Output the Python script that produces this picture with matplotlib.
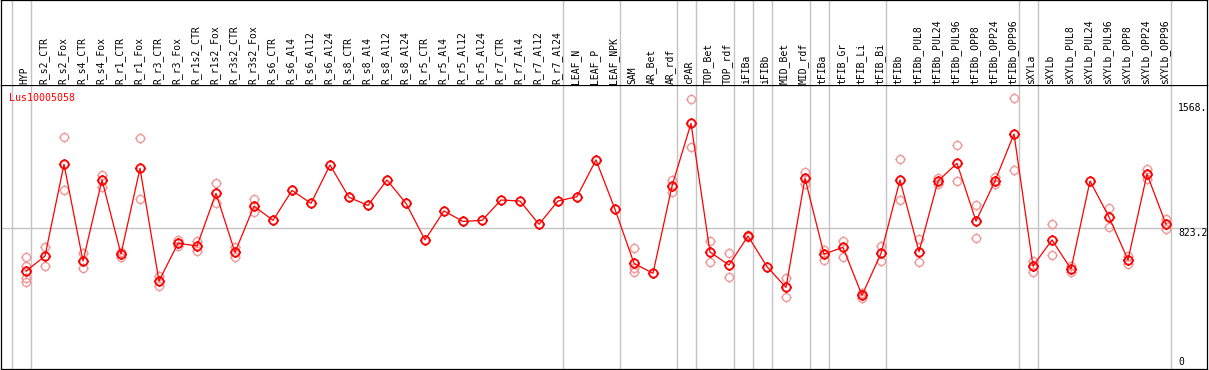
import matplotlib
matplotlib.use("Agg")
import matplotlib.pyplot as plt
from matplotlib.path import Path

categories = ["HYP", "R_s2_CTR", "R_s2_Fox", "R_s4_CTR", "R_s4_Fox", "R_r1_CTR", "R_r1_Fox",
              "R_r3_CTR", "R_r3_Fox", "R_r1s2_CTR", "R_r1s2_Fox", "R_r3s2_CTR", "R_r3s2_Fox",
              "R_s6_CTR", "R_s6_Al4", "R_s6_Al12", "R_s6_Al24", "R_s8_CTR", "R_s8_Al4",
              "R_s8_Al12", "R_s8_Al24", "R_r5_CTR", "R_r5_Al4", "R_r5_Al12", "R_r5_Al24",
              "R_r7_CTR", "R_r7_Al4", "R_r7_Al12", "R_r7_Al24", "LEAF_N", "LEAF_P", "LEAF_NPK",
              "SAM", "AR_Bet", "AR_rdf", "cPAR", "TOP_Bet", "TOP_rdf", "iFIBa", "iFIBb",
              "MID_Bet", "MID_rdf", "tFIBa", "tFIB_Gr", "tFIB_Li", "tFIB_Bi", "tFIBb",
              "tFIBb_PUL8", "tFIBb_PUL24", "tFIBb_PUL96", "tFIBb_OPP8", "tFIBb_OPP24",
              "tFIBb_OPP96", "sXYLa", "sXYLb", "sXYLb_PUL8", "sXYLb_PUL24", "sXYLb_PUL96",
              "sXYLb_OPP8", "sXYLb_OPP24", "sXYLb_OPP96"]

mean_values = [569, 658, 1203, 629, 1110, 670, 1179, 510, 734, 718, 1031, 680, 955,
               870, 1048, 971, 1199, 1007, 959, 1110, 971, 754, 926, 864, 870,
               991, 985, 847, 985, 1011, 1229, 936,
               615, 556, 1074, 1446, 682, 605, 777, 595, 472, 1120,
               670, 710, 425, 674, 1110, 684, 1104, 1209, 866, 1104, 1383,
               599, 754, 581, 1104, 890, 635, 1145, 847]

replicates = [[654, 599, 526, 506], [714, 599], [1363, 1050], [674, 585], [1139, 1070],
              [680, 654], [1357, 997], [540, 480], [754, 718], [748, 690], [1090, 975],
              [714, 651], [997, 918],
              [], [], [], [], [], [], [], [], [], [], [], [], [], [], [], [], [], [], [],
              [704, 585, 565], [], [1110, 1041], [1591, 1304], [748, 621], [676, 532],
              [781, 773], [], [528, 413], [1155, 1086],
              [694, 635], [748, 651], [437, 410], [718, 631], [1233, 991], [760, 621],
              [1123, 1084], [1316, 1104], [959, 763], [1130, 1084], [1595, 1169],
              [629, 561], [847, 664], [599, 561], [], [944, 829], [659, 609],
              [1175, 1116], [876, 817]]

group_ends = [-1, 0, 28, 31, 34, 35, 37, 38, 39, 41, 42, 45, 52, 53, 60]
ytick_values = [1568, 823.2, 0]
ytick_labels = ["1568.", "823.2", "0"]
gene_name = "Lus10005058"

W, H = 1209, 370
fig = plt.figure(figsize=(W / 100, H / 100), dpi=100)
plt.rcParams['font.family'] = ['DejaVu Sans Mono']

def px_x(p):
    return (p - 26) / 19.0

x0, x1 = px_x(1), px_x(1207)
ax = fig.add_axes([1 / W, 1 / H, 1206 / W, (369 - 85) / H])
hx = fig.add_axes([1 / W, (H - 85) / H, 1206 / W, 85 / H], sharex=ax)

ax.set_xlim(x0, x1)
ax.set_ylim((366.9 - 369) / 0.1684, (366.9 - 85) / 0.1684)
hx.set_ylim(85, 0)

for a in (ax, hx):
    a.set_xticks([])
    a.set_yticks([])
    for s in a.spines.values():
        s.set_color("black")
        s.set_linewidth(0.9)
hx.spines["bottom"].set_visible(False)

grey = "#c4c4c4"
for b in group_ends:
    xv = b + 0.24
    ax.axvline(xv, color=grey, lw=1.0, zorder=1)
    hx.axvline(xv, color=grey, lw=1.0, zorder=1)
ax.plot([x0, x1], [823.2, 823.2], color=grey, lw=1.0, zorder=1)

# marker: circle with four short ticks
circ = Path.unit_circle()
tv = [(0, 1), (0, 1.28), (0, -1), (0, -1.28), (1, 0), (1.28, 0), (-1, 0), (-1.28, 0)]
tc = [Path.MOVETO, Path.LINETO] * 4
mk = Path.make_compound_path(circ, Path(tv, tc))

xs = list(range(len(categories)))
rx, ry = [], []
for i, reps in enumerate(replicates):
    for v in reps:
        rx.append(i)
        ry.append(v)
ax.plot(rx, ry, linestyle="none", marker=mk, markersize=7.4, markerfacecolor="none",
        markeredgecolor="#f09898", markeredgewidth=1.0, zorder=2)
ax.plot(xs, mean_values, color="#ff0000", lw=0.9, zorder=3)
ax.plot(xs, mean_values, linestyle="none", marker=mk, markersize=7.6, markerfacecolor="none",
        markeredgecolor="#ff0000", markeredgewidth=1.3, zorder=4)

for i, name in enumerate(categories):
    hx.text(i - 0.08, 84, name, rotation=90, ha="center", va="bottom", fontsize=7,
            color="black")

tx = px_x(1178)
for v, lab in zip(ytick_values, ytick_labels):
    ax.text(tx, v, lab, ha="left", va="bottom" if v == 0 else "top", fontsize=7,
            color="black", clip_on=False)

fig.text(9 / W, 1 - 97.7 / H, gene_name, ha="left", va="center", fontsize=7.2, color="#ff0000")

fig.savefig("out.png", dpi=100)
